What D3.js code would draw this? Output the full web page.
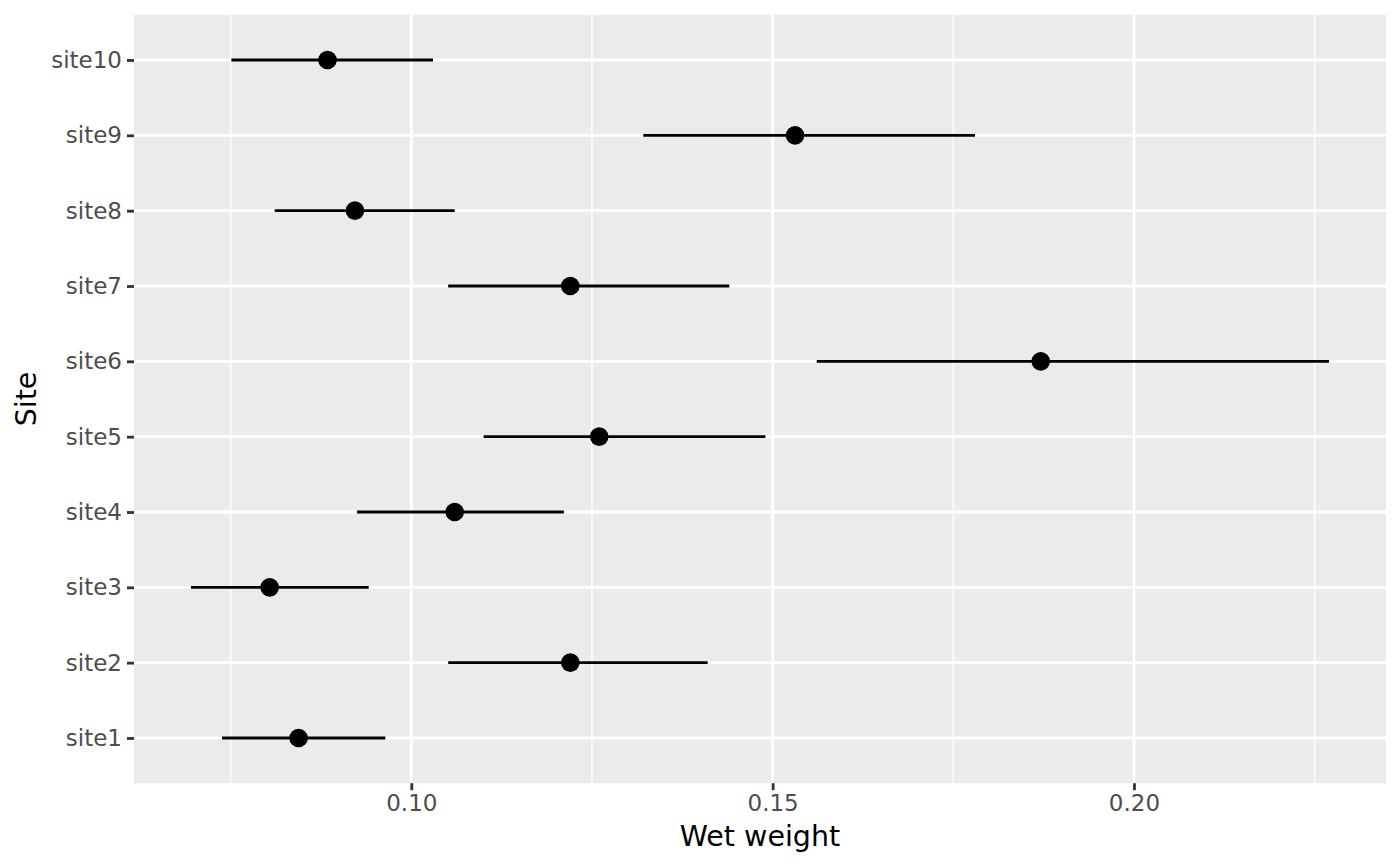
<!DOCTYPE html>
<html>
<head>
<meta charset="utf-8">
<script src="https://cdn.jsdelivr.net/npm/d3@7"></script>
<style>
  body { margin: 0; background: #fff; }
  text { font-family: "DejaVu Sans", sans-serif; }
</style>
</head>
<body>
<div id="chart"></div>
<script>
// values
const sites = ["site1", "site2", "site3", "site4", "site5", "site6", "site7", "site8", "site9", "site10"];
const means = [0.0844, 0.1220, 0.0804, 0.1060, 0.1260, 0.1871, 0.1220, 0.0922, 0.1531, 0.0884];
const lows  = [0.0738, 0.1051, 0.0695, 0.0925, 0.1100, 0.1561, 0.1051, 0.0811, 0.1321, 0.0751];
const highs = [0.0964, 0.1410, 0.0941, 0.1211, 0.1490, 0.2270, 0.1440, 0.1060, 0.1780, 0.1030];
const xBreaks = [0.10, 0.15, 0.20];
const xMinor = [0.075, 0.125, 0.175, 0.225];

const data = sites.map((s, i) => ({ site: s, mean: means[i], low: lows[i], high: highs[i] }));

var W = 1400, H = 866;
var margin = {top: 14.8, right: 14, bottom: 82.8, left: 134},
    width = W - margin.left - margin.right,
    height = H - margin.top - margin.bottom;

var svg = d3.select("#chart")
  .append("svg")
    .attr("width", W)
    .attr("height", H);

var g = svg.append("g")
    .attr("transform", "translate(" + margin.left + "," + margin.top + ")");

// ggplot style 5% expansion of the continuous axis
var lo = d3.min(data, d => d.low), hi = d3.max(data, d => d.high);
var pad = (hi - lo) * 0.05;
var x = d3.scaleLinear()
  .domain([lo - pad, hi + pad])
  .range([0, width]);

var y = d3.scalePoint()
  .domain(sites.slice().reverse())
  .range([0, height])
  .padding(0.6);

g.append("rect")
  .attr("width", width)
  .attr("height", height)
  .attr("fill", "#EBEBEB");

// grid
g.selectAll(".minor")
  .data(xMinor)
  .join("line")
    .attr("x1", d => x(d)).attr("x2", d => x(d))
    .attr("y1", 0).attr("y2", height)
    .attr("stroke", "#fff").attr("stroke-width", 1.4);

g.selectAll(".majorx")
  .data(xBreaks)
  .join("line")
    .attr("x1", d => x(d)).attr("x2", d => x(d))
    .attr("y1", 0).attr("y2", height)
    .attr("stroke", "#fff").attr("stroke-width", 2.8);

g.selectAll(".majory")
  .data(sites)
  .join("line")
    .attr("x1", 0).attr("x2", width)
    .attr("y1", d => y(d)).attr("y2", d => y(d))
    .attr("stroke", "#fff").attr("stroke-width", 2.8);

// ranges
g.selectAll(".range")
  .data(data)
  .join("line")
    .attr("x1", d => x(d.low)).attr("x2", d => x(d.high))
    .attr("y1", d => y(d.site)).attr("y2", d => y(d.site))
    .attr("stroke", "#000").attr("stroke-width", 2.8);

g.selectAll(".pt")
  .data(data)
  .join("circle")
    .attr("cx", d => x(d.mean))
    .attr("cy", d => y(d.site))
    .attr("r", 9.3)
    .attr("fill", "#000");

// axes
var xAxis = g.append("g")
  .attr("transform", "translate(0," + height + ")")
  .call(d3.axisBottom(x).tickValues(xBreaks).tickFormat(d3.format(".2f")).tickSize(7).tickPadding(4));

var yAxis = g.append("g")
  .call(d3.axisLeft(y).tickSize(7).tickPadding(5));

[xAxis, yAxis].forEach(function(a){
  a.select(".domain").remove();
  a.selectAll(".tick line").attr("stroke", "#333").attr("stroke-width", 2.8);
  a.selectAll(".tick text")
    .attr("fill", "#4D4D4D")
    .style("font-size", "23px")
    .style("font-family", "'DejaVu Sans', sans-serif");
});

svg.append("text")
  .attr("x", margin.left + width / 2)
  .attr("y", 846)
  .attr("text-anchor", "middle")
  .style("font-size", "28.5px")
  .attr("fill", "#000")
  .text("Wet weight");

svg.append("text")
  .attr("transform", "translate(36," + (margin.top + height / 2) + ")rotate(-90)")
  .attr("text-anchor", "middle")
  .style("font-size", "28.5px")
  .attr("fill", "#000")
  .text("Site");
</script>
</body>
</html>
